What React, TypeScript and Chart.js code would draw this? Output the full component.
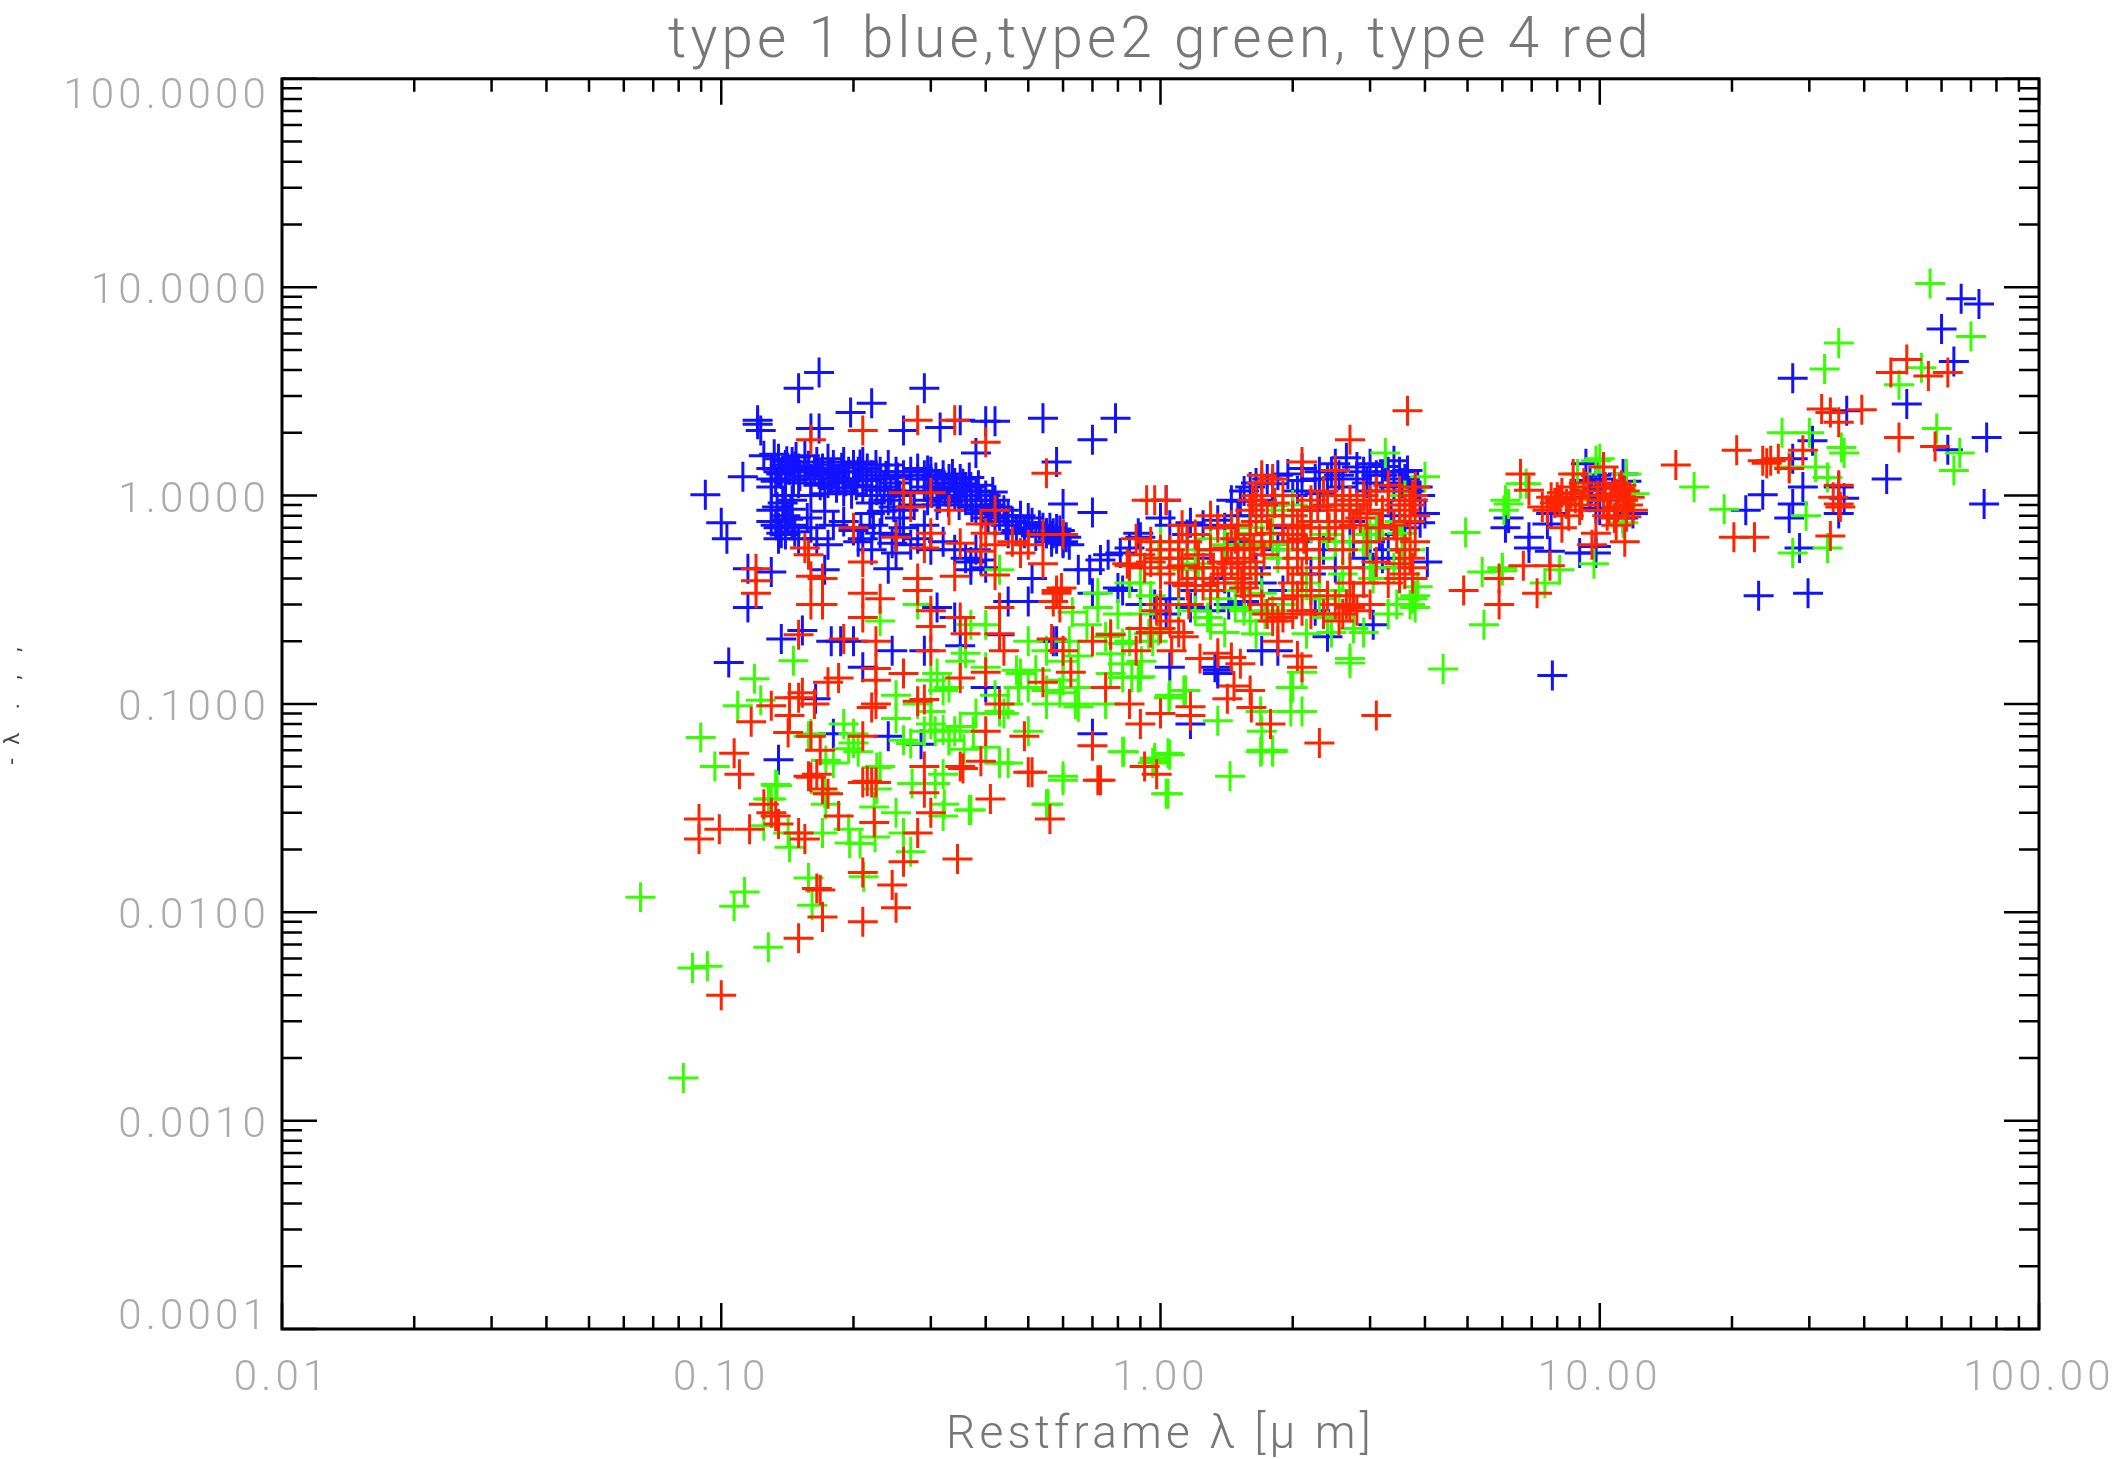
import React, { useEffect, useRef } from "react";
import { Chart, registerables } from "chart.js";

Chart.register(...registerables);

const titleText = "type 1 blue,type2 green, type 4 red";
const xTitleText = "Restframe λ [μ m]";
const yTitleText = "- λ  .  ,  ,";

const xMajorValues = [0.01, 0.1, 1, 10, 100];
const xTickLabels = ["0.01", "0.10", "1.00", "10.00", "100.00"];
const yMajorValues = [0.0001, 0.001, 0.01, 0.1, 1, 10, 100];
const yTickLabels = ["0.0001", "0.0010", "0.0100", "0.1000", "1.0000", "10.0000", "100.0000"];
const minorMultipliers = [2, 3, 4, 5, 6, 7, 8, 9];

const bluePoints = [
  [.167,3.9],[.15,3.27],[.29,3.27],[.22,2.77],[.197,2.5],[.121,2.3],[.121,2.2],[.16,2.1],[.167,2.1],[.123,2.05],[.26,2.05],[.315,2.12],[.35,2.3],[.4,2.27],[.42,2.27],[.54,2.35],[.7,1.85],[.38,1.6],[.58,1.45],[.112,1.23],[.092,1.01],[.1,.74],[.103,.62],[.6,.91],[.7,.83],[.115,.445],[.13,.43],[.115,.29],[.104,.158],[.137,.205],[.153,.225],[.135,.054],[.172,.44],[.24,.445],
  [.125,1.55],[.13,1.35],[.13,1.2],[.13,1.1],[.135,1.5],[.135,1.3],[.14,1.4],[.14,1.2],[.14,1.0],[.145,1.45],[.145,.95],[.15,1.35],[.15,1.15],[.155,1.55],[.155,1.3],[.16,1.2],[.16,1.0],[.165,1.45],[.17,1.35],[.17,1.25],[.175,1.5],[.175,1.15],[.18,1.3],[.18,1.4],[.185,1.2],[.19,1.45],[.19,1.05],[.195,1.3],[.2,1.4],[.2,1.2],[.205,1.3],[.21,1.45],[.21,1.1],[.215,1.35],[.22,1.25],[.22,1.0],[.225,1.4],[.23,1.2],[.23,1.3],[.235,1.1],[.24,1.4],[.24,.95],[.25,1.3],[.25,1.15],[.255,1.0],[.26,1.25],[.26,.85],[.27,1.3],[.27,1.05],[.275,.9],[.28,1.2],[.28,1.35],[.29,1.25],[.29,1.1],[.295,.95],[.3,1.2],[.3,1.3],[.31,1.1],[.31,.9],[.32,1.15],[.32,1.25],[.33,1.05],[.33,1.2],[.34,1.0],[.34,1.15],[.35,1.05],[.35,1.2],[.36,1.1],[.36,.95],[.37,1.0],[.38,1.05],[.38,.85],[.39,.95],[.4,1.0],[.4,.85],[.41,.9],[.42,.95],[.42,.75],[.43,.8],[.44,.85],[.45,.8],[.46,.75],[.48,.8],[.5,.7],[.5,.78],[.53,.72],[.55,.66],[.58,.62],[.56,.7],[.6,.6],[.62,.58],
  [.13,.85],[.13,.75],[.135,.7],[.135,.62],[.14,.8],[.14,.65],[.145,.72],[.16,.7],[.15,.62],[.19,.75],[.2,.68],[.18,.72],[.205,.6],[.21,.62],[.175,.58],[.22,.55],[.25,.65],[.26,.7],[.27,.58],[.28,.62],[.3,.55],[.32,.6],[.34,.55],[.36,.5],[.37,.48],[.38,.55],[.4,.45],
  [.132,1.58],[.137,1.27],[.141,1.46],[.146,1.19],[.148,1.53],[.133,1.17],[.143,1.33],[.151,1.24],[.147,1.38],[.138,.92],[.134,.88],[.142,.77],[.147,.67],[.137,.66],[.133,.72],[.144,.86],[.163,1.33],[.168,1.12],[.172,1.02],[.177,1.28],[.183,1.09],[.188,1.36],[.192,1.17],[.198,1.02],[.203,1.12],[.207,1.41],[.167,1.27],[.178,1.21],[.158,1.39],[.214,1.18],[.219,.92],[.226,1.06],[.232,.84],[.237,1.24],[.243,1.06],[.247,.88],[.252,1.22],[.218,.82],[.295,1.32],[.302,1.03],[.308,1.22],[.314,.97],[.323,1.07],[.329,.93],[.336,1.27],[.343,1.08],[.348,.9],[.355,1.14],[.362,1.0],[.367,1.22],[.372,.88],[.385,1.12],[.392,.82],[.405,.78],[.415,1.04],[.425,.88],[.37,1.1],[.445,.72],[.47,.68],[.49,.66],[.51,.74],[.52,.64],[.54,.7],[.57,.66],[.59,.68],[.61,.63],[.45,.66],[.58,.69],[.6,.65],[.565,.64],[.157,.78],[.172,.84],[.165,.62],[.208,.7],[.23,.66],[.222,.72],[.29,.72],[.255,.78],
  [.31,.29],[.34,.26],[.178,.2],[.187,.2],[.2,.2],[.245,.18],[.29,.18],[.35,.19],[.43,.215],[.5,.31],[.45,.31],[.57,.2],[.58,.2],[.4,.12],[.21,.15],[.164,.106],[.18,.072],[.24,.07],[.285,.064],[.7,.072],[.51,.4],[.69,.44],[.65,.44],[.7,.34],[.6,.59],[.55,.66],[.565,.6],[.25,.53],[.245,.59],[.39,.49],[.37,.44],
  [.73,.49],[.8,.36],[.9,.3],[.97,.3],[1.05,.32],[.89,.66],[.85,.56],[1.0,.78],[1.17,.74],[1.05,.15],[1.35,.145],[1.7,.18],[1.85,.18],[1.17,.08],
  [1.03,.95],[.79,2.35],[.9,.63],[.81,.53],[.76,.52],[.82,.35],[.95,.3],[1.03,.27],[1.17,.29],[1.3,.28],[1.35,.76],[1.6,1.1],[1.52,.94],[1.5,.8],[1.8,1.14],[1.95,1.27],[2.1,1.18],[2.3,1.02],[2.5,1.42],[2.65,1.52],[2.8,1.37],[3,1.42],[3.4,1.47],[3.65,1.32],[3.85,1.1],[4,.82],[3.9,.74],[4.05,.48],[3.05,.24],[2.4,.21],[2.25,.28],[1.35,.14],[1.33,.15],[1.55,.31],[1.43,.3],
  [1.2,.5],[1.3,.55],[1.4,.7],[1.5,.6],[1.6,.8],[1.7,.95],[1.8,.9],[1.9,.7],[2,1],[2.2,.85],[2.4,1.2],[2.6,1.1],[2.8,1.2],[3,1.05],[3.2,1.25],[3.4,1.1],[3.6,.7],[3.7,1.05],[3,.6],[2.9,.5],[3.3,.55],[3.5,.45],[3.2,.5],[2.5,.45],[2.2,.42],[1.9,.35],[1.7,.38],[1.4,.4],[1.2,.35],[3.1,.7],[2.7,.75],[3.5,1.3],[3.6,1.2],[3.75,.95],[3.9,1.0],[2.1,1.35],[2.3,1.3],[1.65,1.15],[1.75,1.2],[2.05,1.05],[2.45,1.3],[2.9,1.3],[3.1,1.25],[3.3,1.3],
  [1.55,1.05],[1.85,1.25],[2.25,1.2],[2.55,1.25],[2.95,1.15],[3.25,1.38],[3.55,1.15],[1.45,.95],[1.25,.72],[1.15,.65],[1.05,.72],[2.05,.6],[2.35,.55],[2.75,.6],[3.35,.8],[3.15,.65],[3.05,.45],[1.65,.45],[1.85,.55],
  [6.2,.78],[6.1,.7],[6.9,.63],[6.9,.56],[7.7,.54],[9,.53],[9.8,.53],[9.8,.57],[9.5,1.18],[9.8,1.25],[11.3,1.27],[9.8,.87],[11.9,.82],[7.6,.73],[11.5,1.17],[9.5,.98],[9.3,1.42],[9.6,1.08],[10,.85],[11.3,.78],[7.75,.82],[10.2,1.1],[10,1.2],[7.8,.137],
  [27.5,3.65],[66.5,8.8],[73,8.3],[60,6.3],[64,4.4],[50,2.75],[76,1.9],[62,1.66],[45,1.2],[75,.91],[30.5,1.83],[36.5,2.55],[27.5,1.5],[29,1.1],[23.5,1.01],[21.5,.85],[27.5,.91],[27,.78],[35,1.1],[36,.97],[35,.82],[28.5,.56],[23,.33],[29.8,.34],
];

const greenPoints = [
  [.0655,.0118],[.113,.0125],[.107,.0107],[.128,.0068],[.086,.0054],[.093,.0055],[.082,.0016],[.158,.0146],[.161,.0108],[.211,.0148],[.27,.0195],[.6,.043],[.555,.033],[.825,.059],[1.05,.057],[.97,.0535],[1.03,.037],[.367,.031],[.32,.029],[.25,.03],[.196,.0215],[.207,.0214],[.224,.023],[.26,.024],[.17,.024],[.143,.0205],[.142,.024],[.125,.026],[.134,.0405],[.13,.035],[.173,.0535],[.172,.0375],[.173,.033],[.226,.0495],[.226,.039],[.223,.032],[.205,.059],[.27,.0645],[.26,.067],[.272,.0415],[.307,.074],[.307,.0415],[.322,.033],[.33,.067],[.357,.0605],[.43,.052],[.4,.062],[.0898,.069],[.0967,.05],[.119,.132],[.109,.098],[.123,.104],[.146,.161],[.158,.07],[.5,.074],[.476,.12],[.59,.113],[.65,.097],[.75,.1],[.86,.134],[.905,.16],[1.045,.107],[1.14,.116],[.43,.092],[.375,.074],[.34,.074],[.29,.074],[.77,.14],
  [.64,.1],[.52,.145],[.89,.134],[.82,.134],[.77,.174],[.82,.195],[1.35,.083],[1.04,.058],[.82,.059],[1.69,.059],[1.8,.059],[1.69,.092],[1.98,.092],[1.98,.12],[.6,.045],[.45,.052],[.97,.055],[1.44,.045],[.63,.275],[.9,.38],[.99,.225],[.96,.2],
  [4.95,.665],[5.4,.43],[6,.435],[5.45,.24],[4.4,.147],[3.8,.29],[3.8,.33],[3.85,.365],[2.7,.165],[2.7,.157],[3.25,1.6],[2.1,.142],[2,.12],[2.1,.092],[1.8,.06],[1.7,.06],[1.04,.037],[.96,.052],[1.13,.116],[1.05,.11],[1.7,.074],
  [6.1,.95],[6.8,1.14],[6.05,.85],[.99,.5],[.72,.29],[.77,.217],[.82,.156],[.9,.135],[.94,.217],[1.22,.47],[1.48,.35],[1.65,.217],[1.73,.27],[2.15,.38],[2.1,.35],[2.45,.22],[2.75,.23],[2.15,.217],[3.05,.4],[3.55,.66],[3.1,.7],[4,1.23],[1.8,.58],[1.85,.5],[1.65,.42],[1.48,.29],[1.28,.26],
  [56.5,10.4],[70,5.8],[35,5.4],[32.5,4.05],[54,4.1],[48,3.4],[26,2.0],[30,2.0],[35.5,1.7],[36,1.6],[58.5,2.1],[66,1.6],[64,1.32],[31,1.37],[33,1.22],[16.4,1.1],[19.2,.86],[29.5,.8],[33,.56],[27.5,.53],[27,1.37],
  [10,1.5],[9.8,1.47],[6.6,1.14],[6.2,.91],[8.9,1.27],[11.5,1.27],[12,1.02],[11.3,.74],[9.7,.47],[8.1,.44],[7.5,.38],[9.05,.95],[6,.45],
  [1.0,.6],[1.1,.5],[1.2,.55],[1.3,.62],[1.4,.58],[1.5,.66],[1.6,.7],[1.7,.65],[1.8,.8],[1.9,.85],[2,.9],[2.2,.7],[2.4,.65],[2.5,.6],[2.7,.55],[2.9,.6],[3,.65],[3.2,.72],[3.5,.75],[3.6,1.0],[3.7,.55],[1.1,.3],[1.2,.28],[1.3,.24],[1.4,.22],[1.6,.25],[1.8,.28],[1.9,.3],[2.3,.32],[2.4,.26],[2.9,.22],[3.3,.27],[3.7,.3],[3.75,.32],[.9,.27],[.8,.27],[.85,.2],[.65,.17],[.6,.16],[.55,.18],[.5,.2],[.75,.21],
  [1.55,.28],[1.7,.34],[2.55,.35],[3.4,.45],[3.55,.55],[2.6,.42],[2.3,.5],[1.95,.55],[1.6,.58],[1.35,.32],[1.15,.44],[.85,.38],[.95,.33],[3.45,.3],[3,.45],[.72,.34],[.68,.24],[.62,.2],
  [.25,.11],[.28,.1],[.3,.13],[.35,.16],[.33,.12],[.38,.09],[.4,.15],[.42,.11],[.45,.1],[.48,.14],[.5,.12],[.55,.1],[.6,.13],[.65,.12],[.3,.08],[.32,.075],[.25,.085],[.2,.065],[.19,.08],
  [.36,.175],[.31,.14],[.32,.116],[.3,.092],[.47,.145],[.475,.12],[.55,.116],[.44,.09],[.35,.078],[.33,.067],[.43,.052],[.32,.046],[.55,.033],[.37,.031],[.195,.025],[.23,.05],[.195,.061],[.18,.052],[.16,.072],[.2,.072],[.133,.041],[.128,.035],[.43,.44],[.28,.3],[.23,.25],[.4,.24],[.37,.24],
];

const redPoints = [
  [14.9,1.4],[20.5,1.65],[20.2,.63],[22.5,.63],[24.5,1.47],[23.5,1.47],[24,1.43],[25.5,1.5],[27,1.35],[29,1.65],[33.5,.64],[34,.98],[35,1.12],[35,.91],[35.3,.88],[33.5,2.5],[32,2.6],[35,2.25],[39.5,2.58],[46,3.9],[50,4.5],[56,3.75],[62,3.9],[48,1.9],[58,1.72],
  [6.6,1.27],[6.9,1.06],[7.75,.98],[8.7,1.27],[8.1,.95],[7.4,.88],[8.2,.7],[10.2,1.37],[10.9,1.02],[11.3,.95],[11,.88],[11.7,.98],[10.5,.85],[11.4,.6],[9.8,.66],[9.6,.58],[10.2,.95],[11.5,.79],[8,.98],[8.4,.91],[8.8,.97],[9.1,.9],[7.9,.92],[8.6,1.02],[10.6,.98],[11.1,1.08],[11.6,.9],[11.9,.85],[10.8,1.15],[5.9,.3],[5.9,.4],[7.2,.34],[6.7,.46],[7.7,.46],[4.9,.35],
  [3.65,2.55],[2.7,1.85],[2.1,1.45],[1.7,1.25],[.97,.95],[3.1,.088],[2.3,.065],[1.78,.08],[1.6,.116],[1.61,.096],[1.42,.106],[1.47,.122],[1.17,.097],[1.17,.088],[1.0,.09],[.9,.08],[.85,.1],[.75,.12],[.92,.05],[.98,.046],[.73,.043],[2.1,.15],[2.05,.17],[1.85,.2],[1.45,.167],[1.52,.156],[1.13,.21],[1.06,.18],[.88,.18],[.9,.23],[.77,.215],[1.35,.175],[1.23,.165],
  [.28,2.3],[.34,2.3],[.21,2.05],[.16,1.85],[.4,1.8],[.55,1.28],[.26,1.03],[.3,1.03],[.27,.88],[.42,.85],[.33,.85],[.39,.73],[.2,.7],[.25,.63],[.54,.65],[.6,.65],[.3,.66],[.29,.56],[.35,.59],[.42,.58],[.39,.54],[.155,.56],[.158,.52],[.21,.48],[.54,.47],[.16,.41],[.17,.4],[.12,.445],[.12,.39],[.12,.34],[.34,.41],[.28,.4],[.42,.415],[.28,.35],[.58,.34],[.58,.35],[.59,.29],[.21,.34],[.23,.32],[.16,.3],[.17,.3],[.21,.26],[.35,.26],[.36,.217],[.3,.28],[.43,.29],[.3,.235],[.3,.18],[.43,.217],[.44,.18],[.15,.215],[.19,.205],[.225,.2],[.225,.148],[.225,.13],[.225,.1],[.22,.096],[.26,.14],[.185,.133],[.175,.127],[.35,.133],[.4,.142],[.54,.127],[.625,.142],[.43,.1],[.28,.103],[.29,.105],[.15,.107],[.143,.107],[.153,.113],[.13,.098],[.143,.088],[.163,.1],[.117,.082],[.142,.073],[.16,.07],[.21,.07],[.168,.06],[.107,.058],[.11,.046],[.16,.0445],[.165,.046],[.158,.045],[.17,.039],[.175,.037],[.22,.042],[.225,.042],[.215,.0425],[.21,.042],[.41,.035],[.35,.05],[.355,.049],[.39,.053],[.4,.074],[.49,.07],[.51,.047],[.56,.028],[.3,.03],[.185,.029],[.223,.027],[.28,.024],[.089,.028],[.089,.0225],[.099,.025],[.116,.025],[.125,.033],[.133,.029],[.135,.0265],[.13,.03],[.15,.024],[.7,.2],[.6,.18],[.565,.205],
  [.345,.018],[.21,.0155],[.26,.0175],[.245,.0135],[.25,.0105],[.21,.009],[.17,.0095],[.165,.013],[.168,.0128],[.15,.0075],[.1,.004],[.72,.043],[.5,.047],[.7,.063],[.29,.05],[.29,.0375],[.155,.0225],
  [3.8,1.1],[3.75,1.0],[3.7,.9],[3.6,.85],[3.75,.95],[3.8,.8],[3.7,.75],[3.5,.9],[3.3,.95],[3.2,.85],[3.5,1.05],[3.8,.6],[3.6,.55],[3.7,.5],[3.75,.45],[3.6,.42],[3.5,.4],[3.3,.38],[3.5,.47],[3.75,.4],
  [2.5,1.32],[2.5,1.0],[2.6,1.0],[2.7,.95],[2.6,.9],[2.5,.85],[2.7,.85],[2.8,.9],[2.9,1.0],[2.5,.75],[2.6,.7],[2.4,.9],[3,.95],[2.75,.72],[2.6,.55],[2.7,.45],[2.7,.38],[2.75,.33],[2.65,.3],[2.7,.29],[2.6,.27],[2.8,.28],[2.5,.3],[2.55,.25],[3,.3],
  [2.2,.95],[2.1,.85],[2,.8],[2.05,.72],[2.1,.7],[2.2,.75],[2,.65],[1.9,.72],[2.15,.55],[2.05,.5],[1.95,.45],[2.1,.42],[2.0,.38],[2.2,.35],[2.05,.33],[1.9,.32],[2.1,.28],[2.2,.27],[2,.27],[1.9,.26],[1.85,.25],
  [1.8,1.2],[1.7,1.15],[1.65,1.0],[1.7,.9],[1.6,.85],[1.75,.8],[1.65,.75],[1.6,.65],[1.7,.6],[1.55,.55],[1.5,.5],[1.6,.48],[1.45,.47],[1.55,.45],[1.65,.42],[1.5,.4],[1.4,.42],[1.55,.36],[1.6,.33],[1.7,.3],[1.75,.27],[1.8,.25],[1.35,.38],[1.3,.35],
  [1.25,.45],[1.2,.4],[1.15,.37],[1.1,.38],[1.25,.37],[1.3,.55],[1.2,.65],[1.35,.7],[1.45,.72],[1.3,.8],
  [.95,.6],[1,.55],[1.05,.55],[1,.5],[.95,.48],[.9,.52],[1.05,.45],[1.0,.42],[.92,.45],[1.1,.6],[1.15,.6],[1.1,.5],[1,.3],[.98,.28],[1.05,.25],[1.1,.22],[1.0,.23],[.95,.22],[.93,.95],[1.03,.95],
  [1.48,.62],[1.53,.38],[1.42,.56],[1.5,.72],[1.38,.48],[1.62,.95],[1.72,.52],[1.63,.56],[1.78,.66],[1.82,.92],[1.9,1.0],[1.95,.6],[2.12,.62],[2.28,.88],[2.3,.62],[2.35,1.05],[2.42,.7],[2.3,.45],[2.85,.78],[2.95,.82],[3.1,1.05],[2.95,.6],[3.15,.7],[3.3,1.12],[3.4,.72],[3.45,.62],[3.1,.48],[2.9,.38],[2.4,.33],[2.35,.27],[1.12,.46],[1.22,.52],[1.32,.45],[.88,.62],[1.12,.72],[.84,.47],[1.16,.3],[9.4,1.05],[9,.85],[8.7,1.1],[8.2,1.03],[7.6,.85],[8.5,.8],[10.4,.8],[10.8,.78],[11.2,1.12],[11.4,1.05],[10.9,.72],[10.3,1.1],[9.9,1.0],[9.2,1.15],[.595,.36],[.57,.31],[.4,.66],[.48,.53],[.46,.6],[.5,.58],[.85,.46],
];

const tickMarksPlugin = {
  id: "tickMarks",
  beforeDraw(chart: any) {
    const ctx = chart.ctx;
    ctx.letterSpacing = "4.2px";
    // the outermost y labels sit inside the axis ends in the reference
    chart.scales.y.getLabelItems().forEach((item: any) => {
      const nudge = item.label === "100.0000" ? 19 : item.label === "0.0001" ? -11 : 5.5;
      item.options.translation[1] += nudge;
    });
  },
  afterDraw(chart: any) {
    const { ctx, chartArea, scales } = chart;
    const { left, right, top, bottom } = chartArea;
    ctx.save();
    ctx.letterSpacing = "0px";
    ctx.strokeStyle = "#000";
    ctx.lineWidth = 2.5;
    ctx.beginPath();
    for (const tick of scales.x.ticks) {
      const px = scales.x.getPixelForValue(tick.value);
      const len = tick.major ? 26 : 13;
      ctx.moveTo(px, bottom);
      ctx.lineTo(px, bottom - len);
      ctx.moveTo(px, top);
      ctx.lineTo(px, top + len);
    }
    for (const tick of scales.y.ticks) {
      const py = scales.y.getPixelForValue(tick.value);
      const len = tick.major ? 35 : 20;
      ctx.moveTo(left, py);
      ctx.lineTo(left + len, py);
      ctx.moveTo(right, py);
      ctx.lineTo(right - len, py);
    }
    ctx.stroke();
    ctx.lineWidth = 3;
    ctx.strokeRect(left, top, right - left, bottom - top);
    ctx.restore();
  },
};

const tickList = (majors: number[]) => {
  const out: any[] = [];
  majors.forEach((m, i) => {
    out.push({ value: m, major: true });
    if (i < majors.length - 1) minorMultipliers.forEach((k) => out.push({ value: m * k, major: false }));
  });
  return out;
};

const labelFor = (majors: number[], labels: string[], v: number) => {
  const i = majors.findIndex((m) => Math.abs(m - v) < m * 1e-6);
  return i >= 0 ? labels[i] : "";
};

const toXY = (pts: number[][]) => pts.map(([x, y]) => ({ x, y }));

const crossDataset = (label: string, pts: number[][], color: string, order: number) => ({
  label,
  data: toXY(pts),
  order,
  pointStyle: "cross",
  pointRadius: 15,
  pointBorderWidth: 3,
  pointBorderColor: color,
  pointBackgroundColor: color,
  showLine: false,
});

const FONT = "Roboto, 'Liberation Sans', sans-serif";

export default function App() {
  const ref = useRef<HTMLCanvasElement | null>(null);
  useEffect(() => {
    document.body.style.margin = "0";
    const chart = new Chart(ref.current as HTMLCanvasElement, {
      type: "scatter",
      data: {
        datasets: [
          crossDataset("type 4", redPoints, "#ff2400", 1),
          crossDataset("type 2", greenPoints, "#38ff00", 2),
          crossDataset("type 1", bluePoints, "#1212ff", 3),
        ],
      },
      plugins: [tickMarksPlugin],
      options: {
        animation: false,
        responsive: false,
        layout: { padding: { left: 0, right: 85, top: 0, bottom: 0 } },
        plugins: {
          legend: { display: false },
          tooltip: { enabled: false },
          title: {
            display: true,
            fullSize: false,
            text: titleText,
            color: "#777",
            font: { family: FONT, size: 56.5, weight: "300", lineHeight: 1.2 },
            padding: { top: 9, bottom: 2 },
          },
        },
        scales: {
          x: {
            type: "logarithmic",
            min: 0.01,
            max: 100,
            afterBuildTicks: (s: any) => { s.ticks = tickList(xMajorValues); },
            afterFit: (s: any) => { s.height = 130; },
            grid: { display: false },
            border: { display: false },
            ticks: {
              autoSkip: false,
              maxRotation: 0,
              padding: 17,
              color: "#aaa",
              font: { family: FONT, size: 42, weight: "300" },
              callback: (v: any) => labelFor(xMajorValues, xTickLabels, Number(v)),
            },
            title: {
              display: true,
              text: xTitleText,
              color: "#777",
              font: { family: FONT, size: 46, weight: "300", lineHeight: 1.0 },
              padding: { top: 0, bottom: 0 },
            },
          },
          y: {
            type: "logarithmic",
            min: 0.0001,
            max: 100,
            afterBuildTicks: (s: any) => { s.ticks = tickList(yMajorValues); },
            afterFit: (s: any) => { s.width = 282; },
            grid: { display: false },
            border: { display: false },
            ticks: {
              autoSkip: false,
              padding: 4,
              color: "#aaa",
              font: { family: FONT, size: 42, weight: "300" },
              callback: (v: any) => labelFor(yMajorValues, yTickLabels, Number(v)),
            },
            title: {
              display: true,
              text: yTitleText,
              color: "#444",
              font: { family: FONT, size: 22, lineHeight: 1.2 },
              padding: { top: 0, bottom: 13 },
            },
          },
        },
      },
    } as any);
    return () => chart.destroy();
  }, []);
  return (
    <div style={{ position: "absolute", left: 0, top: 0, width: 2124, height: 1459, background: "#fff" }}>
      <canvas ref={ref} width={2124} height={1459} style={{ display: "block", filter: "blur(0.6px)" }} />
    </div>
  );
}
